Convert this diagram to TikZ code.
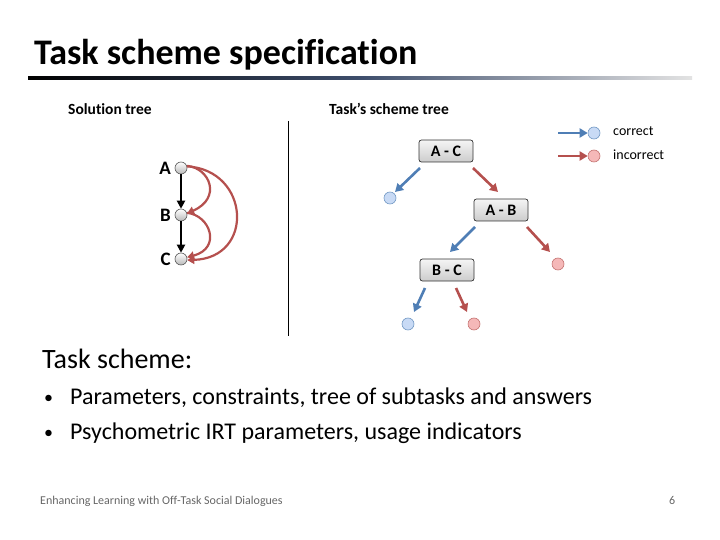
\documentclass[tikz,border=0pt]{standalone}
\usepackage{fontspec}
\setmainfont{Carlito}[Ligatures=NoCommon]
\usetikzlibrary{arrows.meta,shadings}
\definecolor{cblue}{HTML}{4F7EB5}
\definecolor{cred}{HTML}{B5504E}
\definecolor{lblue}{HTML}{C8DAF5}
\definecolor{lred}{HTML}{F5B8B8}
\definecolor{slate}{HTML}{3E4E6C}
\tikzset{
  gdot/.style={circle,draw=gray!70!black,line width=0.6pt,inner sep=0pt,minimum size=12pt,top color=white,bottom color=gray!55},
  bdot/.style={circle,draw=cblue!80,line width=0.6pt,inner sep=0pt,minimum size=12pt,fill=lblue},
  rdot/.style={circle,draw=cred!80,line width=0.6pt,inner sep=0pt,minimum size=12pt,fill=lred},
  lbl/.style={font=\bfseries\fontsize{19}{19}\selectfont,anchor=east,inner sep=0pt},
  bx/.style={draw=gray!40!black,line width=0.7pt,rounded corners=2.5pt,top color=gray!8,bottom color=gray!40,minimum width=54pt,minimum height=22pt,inner sep=0pt,font=\bfseries\fontsize{16}{16}\selectfont},
  barr/.style={draw=cblue,line width=2.6pt,-{Triangle[length=8pt,width=9pt]}},
  rarr/.style={draw=cred,line width=2.6pt,-{Triangle[length=8pt,width=9pt]}},
  karr/.style={draw=black,line width=2.4pt,-{Triangle[length=8pt,width=8pt]}},
  cur/.style={draw=cred,line width=2.2pt,-{Triangle[length=7pt,width=8pt]}},
  txt/.style={anchor=base west,inner sep=0pt}
}
\begin{document}
\begin{tikzpicture}[x=1pt,y=-1pt]
\useasboundingbox (0,0) rectangle (720,540);
% title
\node[txt,font=\bfseries\fontsize{36}{36}\selectfont] (title) at (34,65) {Task scheme specification};
\shade[left color=black,right color=gray!22,middle color=slate] (28,77) rectangle (692,79.5);
% headers
\node[txt,font=\fontsize{15.5}{15.5}\selectfont\bfseries] (h1) at (68,115) {Solution tree};
\node[txt,font=\fontsize{15.5}{15.5}\selectfont\bfseries] (h2) at (329,115) {Task’s scheme tree};
\draw[line width=1pt] (288,121) -- (288,336);
% solution tree
\node[gdot] (A) at (181,168) {};
\node[gdot] (B) at (181,215) {};
\node[gdot] (C) at (181,259) {};
\node[lbl] (la) at (171,168) {A};
\node[lbl] (lb) at (171,215) {B};
\node[lbl] (lc) at (171,259) {C};
\draw[karr] (A.south) -- (B.north);
\draw[karr] (B.south) -- (C.north);
\draw[cur] (A.20) .. controls (210,168) and (222,198) .. (B.15);
\draw[cur] (B.20) .. controls (210,215) and (222,248) .. (C.15);
\draw[cur] (A.15) .. controls (250,170) and (255,258) .. (C.-10);
% task scheme tree
\node[bx] (AC) at (446,151) {A - C};
\node[bx] (AB) at (501,210) {A - B};
\node[bx] (BC) at (447,270) {B - C};
\node[bdot] (b1) at (390,198) {};
\node[rdot] (r1) at (558,264) {};
\node[bdot] (b2) at (408,324) {};
\node[rdot] (r2) at (474,324) {};
\coordinate (p1s) at (420,168); \coordinate (p1e) at (395,192);
\coordinate (p2s) at (473,168); \coordinate (p2e) at (498,192);
\draw[barr] (p1s) -- (p1e);
\draw[rarr] (p2s) -- (p2e);
\coordinate (p3s) at (475,227); \coordinate (p3e) at (450,252);
\coordinate (p4s) at (527,227); \coordinate (p4e) at (550,252);
\draw[barr] (p3s) -- (p3e);
\draw[rarr] (p4s) -- (p4e);
\coordinate (p5s) at (425,288); \coordinate (p5e) at (414,312);
\coordinate (p6s) at (456,288); \coordinate (p6e) at (467,312);
\draw[barr] (p5s) -- (p5e);
\draw[rarr] (p6s) -- (p6e);
% legend
\node[bdot] (lgb) at (594,133) {};
\node[rdot] (lgr) at (594,156) {};
\coordinate (lb1) at (558,133); \coordinate (lr1) at (558,156);
\draw[barr] (lb1) -- (lgb.west);
\draw[rarr] (lr1) -- (lgr.west);
\node[txt,font=\fontsize{14}{14}\selectfont] (tc) at (613,136) {correct};
\node[txt,font=\fontsize{14}{14}\selectfont] (ti) at (613,160) {incorrect};
% task scheme text
\node[txt,font=\fontsize{28}{28}\selectfont] (ts) at (42,368) {Task scheme:};
\node[txt,font=\fontsize{18}{18}\selectfont] (bu1) at (44,403) {•};
\node[txt,font=\fontsize{24}{24}\selectfont] (t1) at (70,404) {Parameters, constraints, tree of subtasks and answers};
\node[txt,font=\fontsize{18}{18}\selectfont] (bu2) at (44,438) {•};
\node[txt,font=\fontsize{24}{24}\selectfont] (t2) at (70,439) {Psychometric IRT parameters, usage indicators};
% footer
\node[txt,font=\fontsize{12}{12}\selectfont,text=gray!80!black] (ft) at (40,504) {Enhancing Learning with Off-Task Social Dialogues};
\node[txt,font=\fontsize{12}{12}\selectfont,text=gray!80!black] (pg) at (669,504) {6};
\end{tikzpicture}
\end{document}
